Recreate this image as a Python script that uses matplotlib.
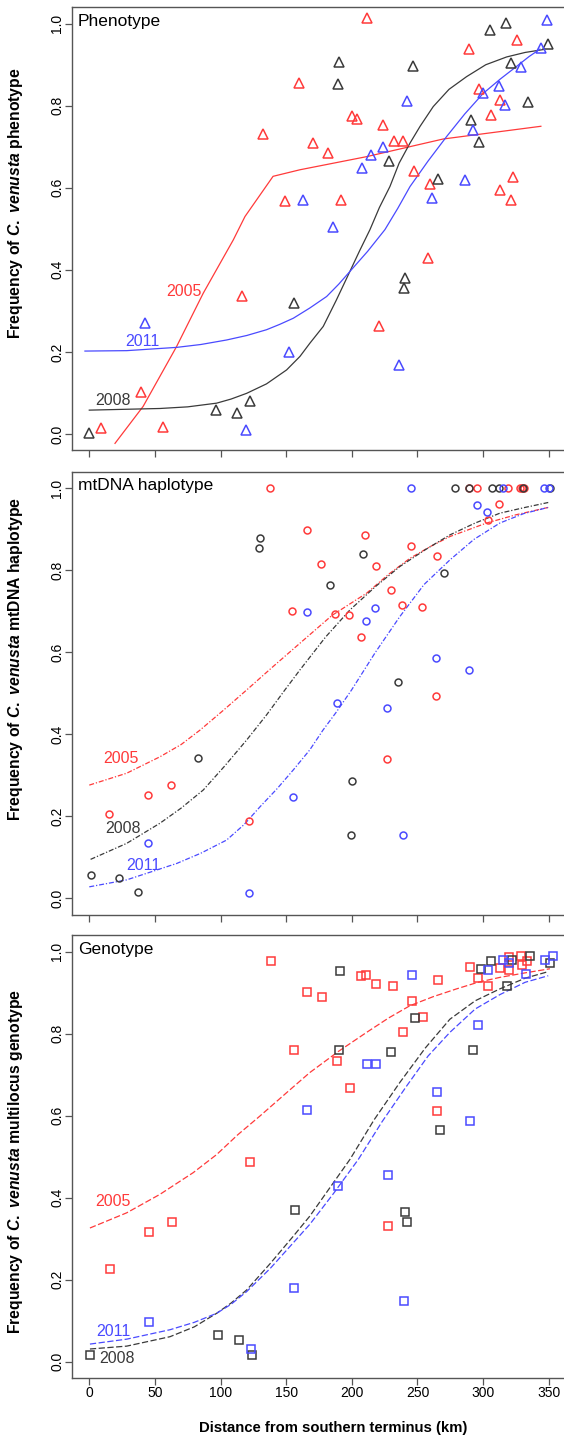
import numpy as np
import matplotlib
matplotlib.use("Agg")
import matplotlib.pyplot as plt

plt.rcParams['font.family'] = ['Liberation Sans', 'DejaVu Sans']
plt.rcParams['mathtext.fontset'] = 'custom'
plt.rcParams['mathtext.rm'] = 'Liberation Sans:bold'
plt.rcParams['mathtext.bf'] = 'Liberation Sans:bold'
plt.rcParams['mathtext.it'] = 'Liberation Sans:bold:italic'

RED = '#ff3a3a'
BLUE = '#4a4aff'
BLACK = '#3a3a3a'

# ---------------- Phenotype (triangles) ----------------
phen_2005_km = [160, 132, 149, 170.6, 211.8, 325.7, 289.2, 296.8, 313, 200.3, 203.6, 224, 305.7,
                181.8, 232, 239, 247, 259.2, 322.9, 312.6, 321.4, 191.5, 116, 39.4, 9.1, 55.9,
                258.2, 220.6]
phen_2005_f = [0.855, 0.732, 0.567, 0.71, 1.014, 0.961, 0.938, 0.84, 0.813, 0.776, 0.768, 0.753, 0.777,
               0.686, 0.714, 0.714, 0.641, 0.61, 0.626, 0.595, 0.571, 0.571, 0.337, 0.102, 0.015, 0.018,
               0.429, 0.263]
phen_2008_km = [305.2, 317.1, 349.6, 190, 246.5, 321, 189.2, 290.7, 334.4, 296.8, 228, 265.6, 156,
                122.4, 96.2, 112.5, -0.5, 240.4, 239.9]
phen_2008_f = [0.985, 1.003, 0.951, 0.907, 0.898, 0.904, 0.854, 0.766, 0.808, 0.712, 0.665, 0.621, 0.319,
               0.081, 0.059, 0.05, 0.003, 0.38, 0.355]
phen_2011_km = [348.6, 344, 328.8, 312, 299.8, 316.4, 242, 292, 224, 214.5, 207.5, 285.9, 261, 163,
                186, 42.4, 151.8, 119.1, 236]
phen_2011_f = [1.008, 0.94, 0.894, 0.847, 0.83, 0.803, 0.811, 0.74, 0.699, 0.681, 0.649, 0.618, 0.576,
               0.571, 0.504, 0.27, 0.2, 0.009, 0.169]

# fitted clines
phen_fit_2005_km = [19.6, 41, 66.5, 86.8, 109.7, 118.6, 140, 160.5, 211.3, 269.6, 344]
phen_fit_2005_f = [-0.023, 0.067, 0.213, 0.343, 0.473, 0.53, 0.628, 0.644, 0.676, 0.719, 0.75]
phen_fit_2008_km = [0, 53.8, 75, 97, 108, 119.9, 135, 150.3, 160.5, 168, 178.2, 188, 198.5, 206, 213.8,
                    221, 229, 236, 244.3, 252, 262, 274, 287.4, 302, 317.9, 332, 345.8]
phen_fit_2008_f = [0.058, 0.062, 0.066, 0.075, 0.085, 0.099, 0.122, 0.156, 0.189, 0.221, 0.262, 0.325,
                   0.396, 0.447, 0.498, 0.552, 0.603, 0.66, 0.709, 0.75, 0.798, 0.84, 0.871, 0.9, 0.919,
                   0.93, 0.937]
phen_fit_2011_km = [-3.3, 28.5, 66.6, 85, 104.6, 120, 135, 145, 155.4, 168, 180.8, 190, 198.5, 212,
                    225.2, 235, 244.3, 258, 272.2, 286, 300, 313, 325.5, 335, 343.3]
phen_fit_2011_f = [0.202, 0.203, 0.211, 0.218, 0.229, 0.24, 0.254, 0.267, 0.282, 0.307, 0.335, 0.365,
                   0.396, 0.445, 0.498, 0.55, 0.603, 0.665, 0.725, 0.78, 0.83, 0.865, 0.896, 0.92, 0.938]

# ---------------- mtDNA haplotype (circles) ----------------
mt_2005_km = [137.6, 165.6, 154.6, 289.4, 295, 318.7, 328, 329.5, 331, 312, 303.4, 210, 244.8, 264.6,
              176.5, 218.1, 229.8, 187.4, 197.8, 237.9, 253.4, 206.7, 62, 45, 14.8, 121.9, 264, 227]
mt_2005_f = [1.0, 0.898, 0.701, 1.0, 1.0, 1.0, 1.0, 1.0, 1.0, 0.962, 0.923, 0.886, 0.858, 0.835,
             0.815, 0.809, 0.752, 0.693, 0.69, 0.715, 0.711, 0.637, 0.276, 0.251, 0.206, 0.189, 0.493, 0.339]
mt_2008_km = [130.2, 129.2, 278.5, 289.4, 306.5, 312, 330, 351, 208.7, 183.1, 270.1, 234.9, 83, 1,
              22.9, 36.9, 200, 199]
mt_2008_f = [0.878, 0.854, 1.0, 1.0, 1.0, 1.0, 1.0, 1.0, 0.839, 0.764, 0.792, 0.528, 0.342, 0.056,
             0.049, 0.015, 0.287, 0.155]
mt_2011_km = [165.6, 244.8, 315.3, 346.5, 350, 295, 303.1, 217.8, 210.7, 264, 288.9, 154.9, 45, 121.9,
              188.7, 227, 238.7]
mt_2011_f = [0.697, 1.0, 1.0, 1.0, 1.0, 0.958, 0.942, 0.707, 0.677, 0.587, 0.557, 0.246, 0.135, 0.012,
             0.476, 0.463, 0.154]

mt_fit_2005_km = [0, 28.5, 53.8, 70, 84.3, 102, 119.9, 140, 160.5, 185, 211.3, 228, 244.3, 260, 274.7,
                  302.7, 325, 349.6]
mt_fit_2005_f = [0.276, 0.305, 0.345, 0.375, 0.41, 0.458, 0.508, 0.565, 0.622, 0.69, 0.744, 0.79, 0.829,
                 0.858, 0.882, 0.915, 0.935, 0.953]
mt_fit_2008_km = [1, 28.5, 53.8, 70, 86.8, 103, 119.9, 135, 149, 160.5, 180, 198.5, 218, 236.6, 256,
                  274.7, 294, 312.8, 332, 349.6]
mt_fit_2008_f = [0.095, 0.134, 0.183, 0.22, 0.264, 0.322, 0.386, 0.447, 0.508, 0.557, 0.637, 0.703, 0.76,
                 0.809, 0.85, 0.886, 0.915, 0.939, 0.953, 0.965]
mt_fit_2011_km = [0, 28.5, 66.6, 85, 104.6, 118, 130, 143, 155.4, 168, 178, 188.4, 199.8, 218, 236.6,
                  255, 274.7, 293, 312.8, 331, 349.6]
mt_fit_2011_f = [0.028, 0.045, 0.085, 0.11, 0.142, 0.18, 0.223, 0.267, 0.313, 0.362, 0.41, 0.455, 0.508,
                 0.6, 0.687, 0.765, 0.825, 0.875, 0.915, 0.938, 0.953]

# ---------------- Genotype (squares) ----------------
gen_2005_km = [138.4, 165.8, 155.7, 207.2, 210.7, 218.6, 231.1, 265.4, 177.5, 290, 319.7, 328.6,
               333.6, 329.8, 312.8, 319.7, 296.3, 303.9, 245.8, 254.2, 238.9, 188.4, 198.6, 264.8,
               122.6, 62.8, 45.5, 15.8, 227.7]
gen_2005_f = [0.977, 0.902, 0.761, 0.941, 0.942, 0.92, 0.917, 0.931, 0.89, 0.963, 0.987, 0.99,
              0.976, 0.967, 0.959, 0.954, 0.935, 0.915, 0.879, 0.841, 0.804, 0.732, 0.668, 0.611,
              0.488, 0.34, 0.317, 0.226, 0.33]
gen_2008_km = [191.2, 298.6, 306, 322.2, 335.4, 350.9, 318.4, 248, 190.2, 229.5, 292.2, 266.9, 156.7,
               98, 113.8, 123.9, 0.5, 240.4, 241.7]
gen_2008_f = [0.952, 0.958, 0.976, 0.979, 0.989, 0.972, 0.915, 0.837, 0.76, 0.754, 0.76, 0.566, 0.371,
              0.064, 0.053, 0.016, 0.017, 0.365, 0.34]
gen_2011_km = [165.8, 245.8, 303.9, 315.3, 319.4, 347.1, 352.9, 332.6, 296.3, 211.3, 218.6, 264.8,
               290, 155.7, 45.5, 122.9, 227.7, 189.4, 239.5]
gen_2011_f = [0.614, 0.942, 0.955, 0.979, 0.971, 0.98, 0.989, 0.945, 0.822, 0.725, 0.725, 0.657,
              0.587, 0.18, 0.096, 0.03, 0.456, 0.428, 0.149]

gen_fit_2005_km = [0.5, 28.5, 53.8, 79.2, 97, 113, 130, 150, 168, 190, 211.3, 228, 244.3, 262, 279.8,
                   296, 312.8, 332, 350.9]
gen_fit_2005_f = [0.326, 0.363, 0.408, 0.461, 0.505, 0.553, 0.599, 0.655, 0.705, 0.757, 0.803, 0.838,
                  0.868, 0.89, 0.909, 0.925, 0.937, 0.948, 0.958]
gen_fit_2008_km = [0.5, 28.5, 61.5, 80, 97, 108, 119.9, 138, 155.4, 168, 183, 198.5, 217, 236.6, 256,
                   274.7, 294, 312.8, 332, 349.6]
gen_fit_2008_f = [0.031, 0.038, 0.061, 0.085, 0.118, 0.143, 0.175, 0.24, 0.306, 0.355, 0.423, 0.493,
                  0.59, 0.681, 0.765, 0.835, 0.88, 0.909, 0.935, 0.951]
gen_fit_2011_km = [0.5, 28.5, 61.5, 80, 97, 108, 119.9, 138, 155.4, 168, 186, 204.9, 223, 241.7, 258,
                   274.7, 294, 312.8, 332, 349.6]
gen_fit_2011_f = [0.043, 0.055, 0.078, 0.096, 0.118, 0.14, 0.171, 0.228, 0.29, 0.335, 0.41, 0.493,
                  0.585, 0.672, 0.745, 0.803, 0.86, 0.895, 0.925, 0.941]

years = ['2005', '2008', '2011']
colors = [RED, BLACK, BLUE]

panels = [
    dict(title='Phenotype', trait='phenotype', marker='^', ms=7.2, ls='-',
         pts=[(phen_2005_km, phen_2005_f), (phen_2008_km, phen_2008_f), (phen_2011_km, phen_2011_f)],
         fits=[(phen_fit_2005_km, phen_fit_2005_f), (phen_fit_2008_km, phen_fit_2008_f),
               (phen_fit_2011_km, phen_fit_2011_f)],
         labels=[(72, 0.347), (18.3, 0.081), (40.6, 0.225)], ylab_y=0.558),
    dict(title='mtDNA haplotype', trait='mtDNA haplotype', marker='o', ms=5.0, ls=(0, (4, 1.5, 1, 1.5)),
         pts=[(mt_2005_km, mt_2005_f), (mt_2008_km, mt_2008_f), (mt_2011_km, mt_2011_f)],
         fits=[(mt_fit_2005_km, mt_fit_2005_f), (mt_fit_2008_km, mt_fit_2008_f),
               (mt_fit_2011_km, mt_fit_2011_f)],
         labels=[(24, 0.341), (26, 0.171), (41, 0.08)], ylab_y=0.577),
    dict(title='Genotype', trait='multilocus genotype', marker='s', ms=5.6, ls=(0, (5, 2)),
         pts=[(gen_2005_km, gen_2005_f), (gen_2008_km, gen_2008_f), (gen_2011_km, gen_2011_f)],
         fits=[(gen_fit_2005_km, gen_fit_2005_f), (gen_fit_2008_km, gen_fit_2008_f),
               (gen_fit_2011_km, gen_fit_2011_f)],
         labels=[(18.3, 0.391), (20.9, 0.007), (18.3, 0.073)], ylab_y=0.49),
]

fig = plt.figure(figsize=(5.64, 14.36), dpi=100)
rects = [[0.1271, 0.6864, 0.8794, 0.3085],
         [0.1271, 0.3630, 0.8794, 0.3085],
         [0.1271, 0.0403, 0.8794, 0.3085]]

for i, (p, r) in enumerate(zip(panels, rects)):
    ax = fig.add_axes(r)
    for (km, f), c in zip(p['fits'], colors):
        ax.plot(km, f, color=c, lw=0.9, ls=p['ls'])
    for (km, f), c in zip(p['pts'], colors):
        ax.plot(km, f, ls='none', marker=p['marker'], ms=p['ms'], mfc='none', mec=c, mew=1.1)
    for (x, y), c, yr in zip(p['labels'], colors, years):
        ax.text(x, y, yr, color=c, fontsize=11.5, ha='center', va='center')
    ax.text(0.012, 0.985, p['title'], transform=ax.transAxes, fontsize=12.5, ha='left', va='top')
    ax.set_xlim(-13.4, 364.4)
    ax.set_ylim(-0.04, 1.04)
    ax.set_xticks([0, 50, 100, 150, 200, 250, 300, 350])
    ax.set_yticks([0.0, 0.2, 0.4, 0.6, 0.8, 1.0])
    ax.set_yticklabels(['0.0', '0.2', '0.4', '0.6', '0.8', '1.0'], rotation=90, va='center')
    ax.tick_params(direction='out', length=5, width=0.9, color='#555555', labelsize=10, pad=0.5)
    for s in ax.spines.values():
        s.set_color('#555555')
        s.set_linewidth(1.0)
    if i < 2:
        ax.tick_params(labelbottom=False)
    else:
        ax.set_xlabel('Distance from southern terminus (km)', fontsize=10.7, fontweight='bold')
        ax.xaxis.set_label_coords(0.528, -0.097)
    ax.set_ylabel(r'Frequency of $\mathit{C.\ venusta}$ ' + p['trait'], fontsize=11.3, fontweight='bold')
    ax.yaxis.set_label_coords(-0.094, p['ylab_y'])

fig.savefig('out.png', dpi=100)
